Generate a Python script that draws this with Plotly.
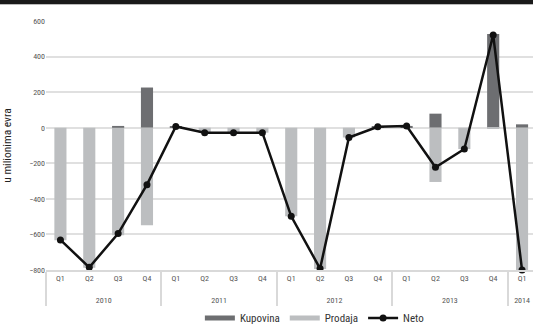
import plotly.graph_objects as go

years = ["2010"]*4 + ["2011"]*4 + ["2012"]*4 + ["2013"]*4 + ["2014"]
quarters = ["Q1","Q2","Q3","Q4"]*4 + ["Q1"]
kupovina = [0, 0, 10, 226, 7, 0, 0, 0, 0, 0, 0, 5, 10, 79, 0, 527, 19]
prodaja = [-633, -787, -605, -549, 0, -28, -28, -28, -498, -795, -55, 0, 0, -305, -120, -6, -819]
neto = [-631, -785, -595, -320, 7, -28, -28, -28, -498, -792, -55, 5, 10, -222, -120, 521, -800]
yticks = [-800, -600, -400, -200, 0, 200, 400, 600]

C_KUP = "#6d6e71"
C_PROD = "#bcbec0"
FONT = "Liberation Sans Narrow, Roboto Condensed, Arial Narrow, Liberation Sans, sans-serif"

# outer level labels pushed down one line to match the reference spacing
x = [["<br>" + yr for yr in years], quarters]
fig = go.Figure()
fig.add_trace(go.Bar(x=x, y=kupovina, name="Kupovina", marker_color=C_KUP,
                     marker_line_width=0, showlegend=False))
fig.add_trace(go.Bar(x=x, y=prodaja, name="Prodaja", marker_color=C_PROD,
                     marker_line_width=0, showlegend=False))
fig.add_trace(go.Scatter(x=x, y=neto, name="Neto", mode="lines+markers",
                         line=dict(color="#111111", width=2.5),
                         marker=dict(color="#111111", size=7),
                         cliponaxis=False, showlegend=False))
# legend entries
fig.add_trace(go.Scatter(x=[None], y=[None], name="Kupovina", mode="lines",
                         line=dict(color=C_KUP, width=5)))
fig.add_trace(go.Scatter(x=[None], y=[None], name="Prodaja", mode="lines",
                         line=dict(color=C_PROD, width=5)))
fig.add_trace(go.Scatter(x=[None], y=[None], name="Neto", mode="lines+markers",
                         line=dict(color="#111111", width=2.5),
                         marker=dict(color="#111111", size=7)))

fig.update_layout(
    width=533, height=329,
    margin=dict(l=46, r=0, t=21, b=59),
    paper_bgcolor="white", plot_bgcolor="white",
    barmode="relative", bargap=0.58,
    font=dict(family=FONT, size=8, color="#555555"),
    xaxis=dict(type="multicategory", range=[-0.5, 16.38],
               showgrid=False, showline=True, linecolor="#d9d9d9", linewidth=1.5,
               ticks="", dividercolor="#d9d9d9", dividerwidth=1.5,
               tickfont=dict(size=8, color="#555555")),
    yaxis=dict(range=[-800, 600], tickvals=yticks, showgrid=True,
               gridcolor="#e0e0e0", gridwidth=2, zeroline=True,
               zerolinecolor="#e0e0e0", zerolinewidth=2, showline=False,
               ticks="", ticklen=0, tickfont=dict(size=8, color="#555555"),
               title=dict(text="u milionima evra", font=dict(size=11.5, color="#222222"),
                          standoff=16)),
    legend=dict(orientation="h", xref="container", yref="container",
                x=0.375, y=1 - 318/329, xanchor="left", yanchor="middle",
                font=dict(size=11, color="#333333"), itemwidth=30,
                bgcolor="rgba(0,0,0,0)"),
    shapes=[
        dict(type="rect", xref="paper", yref="paper", x0=-0.2, x1=1.05,
             y0=1 + 17/249, y1=1 + 21/249, fillcolor="#1a1a1a", line_width=0),
        dict(type="line", xref="paper", yref="paper", x0=-0.2, x1=1.05,
             y0=1 + 16.5/249, y1=1 + 16.5/249, line=dict(color="#bbbbbb", width=1)),
    ],
)

fig.write_html("out.html")
